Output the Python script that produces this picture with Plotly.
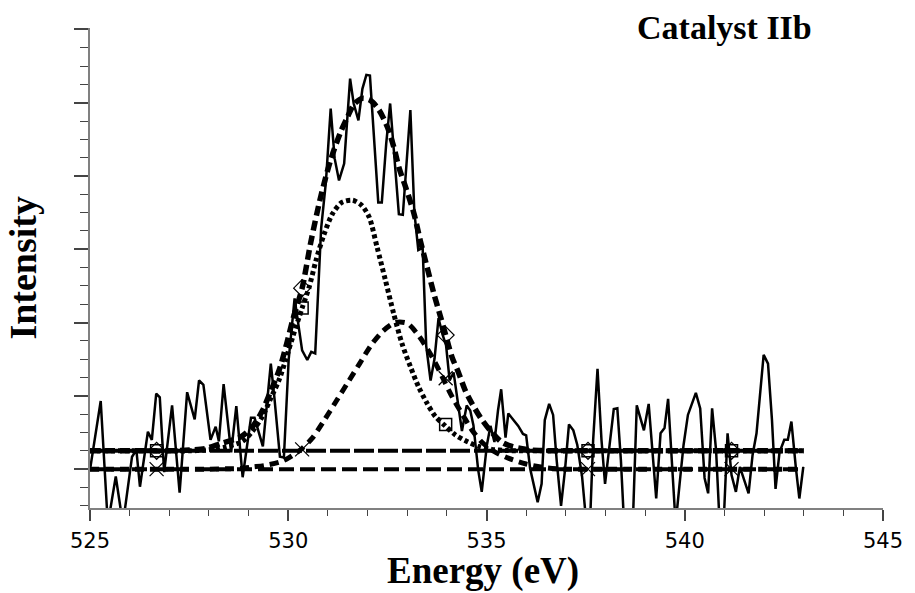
import plotly.graph_objects as go

# ---- measured spectrum (energy in eV, intensity in major-tick units) ----
energy = [525.00, 525.27, 525.45, 525.65, 525.83, 526.06, 526.17, 526.26, 526.46, 526.56,
          526.67, 526.76, 526.87, 527.07, 527.26, 527.45, 527.64, 527.75, 527.86, 528.04,
          528.17, 528.25, 528.37, 528.56, 528.69, 528.85, 529.06, 529.15, 529.36, 529.56,
          529.65, 529.79, 529.89, 530.01, 530.16, 530.35, 530.48, 530.58, 530.68, 530.83,
          530.95, 531.07, 531.17, 531.28, 531.41, 531.56, 531.65, 531.77, 531.87, 531.97,
          532.06, 532.16, 532.27, 532.36, 532.47, 532.57, 532.69, 532.79, 532.89, 532.97,
          533.08, 533.18, 533.28, 533.39, 533.48, 533.59, 533.69, 533.79, 533.89, 533.98,
          534.07, 534.17, 534.28, 534.38, 534.50, 534.59, 534.67, 534.79, 534.88, 535.01,
          535.10, 535.20, 535.29, 535.37, 535.48, 535.55, 535.68, 535.80, 535.92, 536.00,
          536.10, 536.18, 536.29, 536.39, 536.47, 536.58, 536.68, 536.77, 536.88, 536.98,
          537.08, 537.19, 537.29, 537.41, 537.52, 537.61, 537.69, 537.80, 537.90, 537.99,
          538.11, 538.21, 538.30, 538.39, 538.47, 538.69, 538.79, 538.97, 539.09, 539.20,
          539.28, 539.39, 539.49, 539.58, 539.69, 539.77, 539.87, 539.97, 540.08, 540.19,
          540.28, 540.39, 540.50, 540.59, 540.69, 540.79, 540.88, 540.98, 541.08, 541.18,
          541.29, 541.39, 541.50, 541.61, 541.71, 541.81, 541.99, 542.10, 542.20, 542.29,
          542.39, 542.51, 542.60, 542.69, 542.80, 542.89, 542.99]
intensity = [-0.01, 0.93, -0.75, -0.10, -0.75, 0.17, 0.26, -0.24, 0.51, 0.40,
             1.03, 0.98, -0.04, 0.87, -0.32, 1.05, 0.68, 1.21, 1.15, 0.40,
             0.58, 0.38, 1.16, 0.23, 0.86, -0.11, 0.70, 0.70, 0.31, 1.44,
             0.98, 0.17, 0.16, 1.49, 2.33, 1.62, 1.49, 1.60, 1.58, 3.29,
             3.92, 4.92, 4.24, 3.94, 4.17, 5.33, 4.99, 4.76, 5.19, 5.38,
             5.37, 4.56, 3.64, 3.64, 4.44, 4.99, 4.22, 3.48, 3.47, 4.08,
             4.90, 3.51, 2.99, 3.02, 1.68, 1.21, 1.51, 2.06, 1.84, 1.69,
             1.21, 1.32, 0.87, 0.52, 0.87, 0.80, 0.60, -0.01, -0.31, 0.33,
             0.59, 0.37, 0.80, 1.09, 0.43, 0.76, 0.67, 0.59, 0.48, 0.46,
             0.01, -0.20, -0.45, -0.20, 0.67, 0.89, 0.74, 0.12, -0.50, -0.01,
             0.61, 0.53, 0.33, -0.10, -0.75, -0.75, 0.40, 1.37, 0.40, -0.20,
             0.40, 0.82, 0.83, 0.12, -0.75, -0.75, 0.87, 0.53, 0.89, 0.08,
             -0.40, 0.49, 0.56, 0.96, -0.01, -0.75, -0.20, 0.33, 0.74, 0.89,
             1.04, 0.83, -0.12, -0.33, 0.83, 0.26, -0.75, -0.75, 0.49, -0.08,
             -0.31, 0.03, -0.15, -0.33, 0.19, 0.49, 1.56, 1.44, 0.67, -0.27,
             0.23, 0.40, 0.40, 0.65, 0.03, -0.40, 0.03]
assert len(energy) == len(intensity)

# ---- backgrounds ----
bg_x = [525.0, 543.0]
bg_upper = [0.25, 0.25]
bg_lower = [0.0, 0.0]

# ---- fitted envelope (sum) ----
env_x = [525.0, 525.5, 526.0, 526.5, 527.0, 527.5, 527.9, 528.3, 528.8, 529.1,
         529.35, 529.57, 529.77, 529.94, 530.11, 530.35, 530.57, 530.82, 531.07, 531.32,
         531.49, 531.66, 531.87, 532.08, 532.29, 532.50, 532.66, 532.79, 532.96, 533.17,
         533.33, 533.50, 533.67, 533.84, 533.97, 534.13, 534.30, 534.46, 534.63, 534.84,
         535.09, 535.38, 535.64, 535.9, 536.14, 536.4, 536.7, 537.0, 537.5, 538.0,
         538.5, 539.0, 539.5, 540.0, 540.5, 541.0, 541.5, 542.0, 542.5, 543.0]
env_y = [0.25, 0.25, 0.25, 0.25, 0.25, 0.26, 0.28, 0.35, 0.44, 0.58,
         0.80, 1.08, 1.35, 1.67, 2.03, 2.47, 3.10, 3.72, 4.22, 4.60,
         4.80, 4.98, 5.06, 5.03, 4.90, 4.67, 4.40, 4.12, 3.85, 3.49,
         3.12, 2.76, 2.40, 2.08, 1.83, 1.53, 1.31, 1.08, 0.90, 0.71,
         0.53, 0.37, 0.31, 0.28, 0.26, 0.255, 0.25, 0.25, 0.25, 0.25,
         0.25, 0.25, 0.25, 0.25, 0.25, 0.25, 0.25, 0.25, 0.25, 0.25]

# ---- component 1 (dotted, on upper background) ----
c1_x = [525.0, 525.5, 526.0, 526.5, 527.0, 527.5, 527.9, 528.4, 528.85, 529.1,
        529.35, 529.57, 529.77, 529.94, 530.11, 530.35, 530.53, 530.70, 530.90, 531.11,
        531.35, 531.62, 531.85, 532.04, 532.24, 532.45, 532.66, 532.87, 533.08, 533.29,
        533.50, 533.71, 533.96, 534.21, 534.46, 534.80, 535.13, 535.5, 536.0, 536.5,
        537.0, 537.5, 538.0, 538.5, 539.0, 539.5, 540.0, 540.5, 541.0, 541.5,
        542.0, 542.5, 543.0]
c1_y = [0.25, 0.25, 0.25, 0.25, 0.25, 0.25, 0.26, 0.30, 0.38, 0.52,
        0.72, 0.98, 1.22, 1.50, 1.80, 2.20, 2.49, 2.85, 3.20, 3.48,
        3.64, 3.67, 3.60, 3.44, 3.03, 2.58, 2.12, 1.71, 1.40, 1.12,
        0.90, 0.72, 0.59, 0.47, 0.39, 0.31, 0.27, 0.255, 0.25, 0.25,
        0.25, 0.25, 0.25, 0.25, 0.25, 0.25, 0.25, 0.25, 0.25, 0.25,
        0.25, 0.25, 0.25]

# ---- component 2 (dashed, on lower background) ----
c2_x = [525.0, 525.5, 526.0, 526.5, 527.0, 527.5, 528.0, 528.5, 528.8, 529.1,
        529.4, 529.8, 530.0, 530.3, 530.6, 530.9, 531.2, 531.5, 531.8, 532.1,
        532.4, 532.7, 533.0, 533.25, 533.5, 533.7, 533.92, 534.15, 534.4, 534.65,
        534.9, 535.2, 535.55, 536.0, 536.5, 537.0, 537.5, 538.0, 538.5, 539.0,
        539.5, 540.0, 540.5, 541.0, 541.5, 542.0, 542.5, 543.0]
c2_y = [0.0, 0.0, 0.0, 0.0, 0.0, 0.0, 0.0, 0.005, 0.01, 0.03,
        0.05, 0.10, 0.15, 0.26, 0.42, 0.66, 0.92, 1.18, 1.44, 1.70,
        1.89, 2.00, 1.99, 1.85, 1.65, 1.46, 1.22, 0.97, 0.74, 0.52,
        0.36, 0.24, 0.15, 0.07, 0.02, 0.0, 0.0, 0.0, 0.0, 0.0,
        0.0, 0.0, 0.0, 0.0, 0.0, 0.0, 0.0, 0.0]

# ---- marker positions ----
mk_x = [526.68, 530.35, 533.97, 537.56, 541.18]
env_mk = [0.25, 2.47, 1.83, 0.25, 0.25]
c1_mk = [0.25, 2.20, 0.61, 0.25, 0.25]
c2_mk = [0.0, 0.27, 1.24, 0.0, 0.0]

x_ticks = [525, 530, 535, 540, 545]

fig = go.Figure()
fig.add_trace(go.Scatter(x=energy, y=intensity, mode="lines",
                         line=dict(color="black", width=2.5)))
fig.add_trace(go.Scatter(x=bg_x, y=bg_upper, mode="lines",
                         line=dict(color="black", width=4, dash="20px,4px")))
fig.add_trace(go.Scatter(x=bg_x, y=bg_lower, mode="lines",
                         line=dict(color="black", width=4, dash="15px,6px")))
fig.add_trace(go.Scatter(x=c1_x, y=c1_y, mode="lines", line_shape="spline",
                         line=dict(color="black", width=5, dash="4px,3px", smoothing=0.8)))
fig.add_trace(go.Scatter(x=c2_x, y=c2_y, mode="lines", line_shape="spline",
                         line=dict(color="black", width=5, dash="9px,6px", smoothing=0.8)))
fig.add_trace(go.Scatter(x=env_x, y=env_y, mode="lines", line_shape="spline",
                         line=dict(color="black", width=5.5, dash="10px,5px", smoothing=0.8)))
fig.add_trace(go.Scatter(x=mk_x, y=c1_mk, mode="markers",
                         marker=dict(symbol="square-open", size=12, color="black",
                                     line=dict(width=1.5))))
fig.add_trace(go.Scatter(x=mk_x, y=env_mk, mode="markers",
                         marker=dict(symbol="diamond-open", size=13, color="black",
                                     line=dict(width=1.2))))
fig.add_trace(go.Scatter(x=mk_x, y=c2_mk, mode="markers",
                         marker=dict(symbol="x-thin-open", size=14, color="black",
                                     line=dict(width=1.2, color="black"))))

fig.update_layout(
    width=915, height=593,
    margin=dict(l=90, r=29, t=28, b=85),
    paper_bgcolor="white", plot_bgcolor="white",
    showlegend=False,
    xaxis=dict(range=[525, 545], tickvals=x_ticks, ticktext=[str(v) for v in x_ticks],
               showgrid=False, zeroline=False, showline=True, linecolor="#808080",
               linewidth=2, ticks="outside", ticklen=11, tickwidth=1.5, tickcolor="#444",
               tickfont=dict(family="DejaVu Sans", size=21, color="black"),
               ticklabelstandoff=2,
               minor=dict(dtick=1, ticks="outside", ticklen=6, tickwidth=1.2,
                          tickcolor="#444", showgrid=False)),
    yaxis=dict(range=[-0.53, 6.02], tick0=0, dtick=1, showticklabels=False,
               showgrid=False, zeroline=False, showline=True, linecolor="#808080",
               linewidth=2, ticks="outside", ticklen=14, tickwidth=1.5, tickcolor="#444",
               minor=dict(dtick=0.25, ticks="outside", ticklen=8, tickwidth=1.2,
                          tickcolor="#444", showgrid=False)),
    annotations=[
        dict(text="<b>Energy (eV)</b>", xref="paper", yref="paper", x=0.495, y=-0.131,
             xanchor="center", yanchor="middle", showarrow=False,
             font=dict(family="Liberation Serif", size=37, color="black")),
        dict(text="<b>Intensity</b>", xref="paper", yref="paper", x=-0.085, y=0.5,
             xanchor="center", yanchor="middle", textangle=-90, showarrow=False,
             font=dict(family="Liberation Serif", size=38, color="black")),
        dict(text="<b>Catalyst IIb</b>", xref="paper", yref="paper", x=0.80, y=1.002,
             xanchor="center", yanchor="middle", showarrow=False,
             font=dict(family="Liberation Serif", size=34, color="black")),
    ],
)

fig.write_html("out.html")
